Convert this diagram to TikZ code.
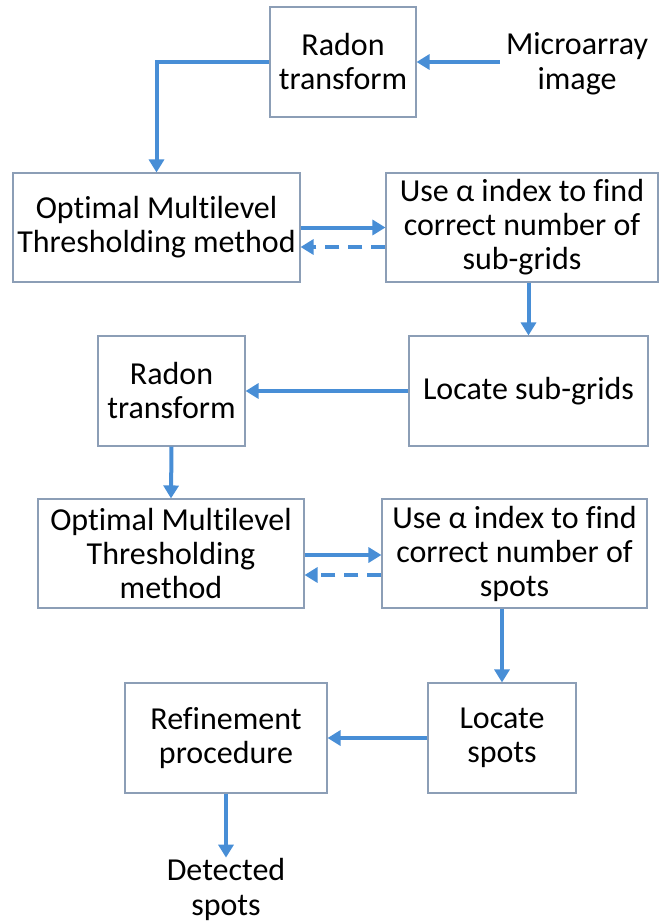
\documentclass[tikz,border=0pt]{standalone}
\usepackage{fontspec}
\setmainfont{Carlito}[Ligatures=NoCommon]
\usetikzlibrary{arrows.meta,calc}

\definecolor{flowblue}{RGB}{72,142,214}
\definecolor{boxedge}{RGB}{140,158,182}

\tikzset{
  stepbox/.style={draw=boxedge, line width=1.1pt, fill=white, inner sep=0pt,
    align=center, font=\fontsize{32}{34}\selectfont},
  plain/.style={inner sep=0pt, align=center, font=\fontsize{32}{35}\selectfont},
  flow/.style={draw=flowblue, line width=4pt,
    -{Triangle[width=15pt,length=13pt]}},
  back/.style={flow, line width=3.6pt, dash pattern=on 14pt off 9pt}
}

\begin{document}
\begin{tikzpicture}[x=1pt,y=-1pt]
  \useasboundingbox (0,0) rectangle (661,924);

  % process boxes
  \node[stepbox, minimum width=146pt, minimum height=110pt] (b1) at (343,62) {Radon\\transform};
  \node[stepbox, minimum width=287pt, minimum height=109pt] (b2) at (156.5,227.5) {Optimal Multilevel\\Thresholding method};
  \node[stepbox, minimum width=272pt, minimum height=109pt] (b3) at (522,227.5) {Use α index to find\\correct number of\\sub-grids};
  \node[stepbox, minimum width=239pt, minimum height=110pt] (b4) at (528.5,391) {Locate sub-grids};
  \node[stepbox, minimum width=147pt, minimum height=110pt] (b5) at (171.5,391) {Radon\\transform};
  \node[stepbox, minimum width=266pt, minimum height=109pt] (b6) at (171,553.5) {Optimal Multilevel\\Thresholding\\method};
  \node[stepbox, minimum width=265pt, minimum height=109pt] (b7) at (514.5,553.5) {Use α index to find\\correct number of\\spots};
  \node[stepbox, minimum width=148pt, minimum height=110pt] (b8) at (502,738) {Locate\\spots};
  \node[stepbox, minimum width=202pt, minimum height=110pt] (b9) at (226,738) {Refinement\\procedure};

  % input and output labels
  \node[plain] (mi) at (577,64) {Microarray\\image};
  \node[plain] (ds) at (226,889) {Detected\\spots};
  \coordinate (mstart) at ([xshift=-6pt]mi.west |- b1.east);

  % forward flow
  \draw[flow] (mstart) -- (b1.east);
  \draw[flow] (b1.west) -| (b2.north);
  \draw[flow] (b2.east) -- (b3.west);
  \draw[flow] (b4.north |- b3.south) -- (b4.north);
  \draw[flow] (b4.west) -- (b5.east);
  \draw[flow] (b5.south) -- (b6.north);
  \draw[flow] ([yshift=-1.5pt]b6.east) -- ([yshift=-1.5pt]b7.west);
  \draw[flow] (b8.north |- b7.south) -- (b8.north);
  \draw[flow] (b8.west) -- (b9.east);
  \draw[flow] (b9.south) -- (ds.north);

  % feedback loops
  \draw[back] ([yshift=-19.5pt]b3.west) -- ([yshift=-19.5pt]b2.east);
  \draw[back] ([yshift=-21.5pt]b7.west) -- ([yshift=-21.5pt]b6.east);
\end{tikzpicture}
\end{document}
